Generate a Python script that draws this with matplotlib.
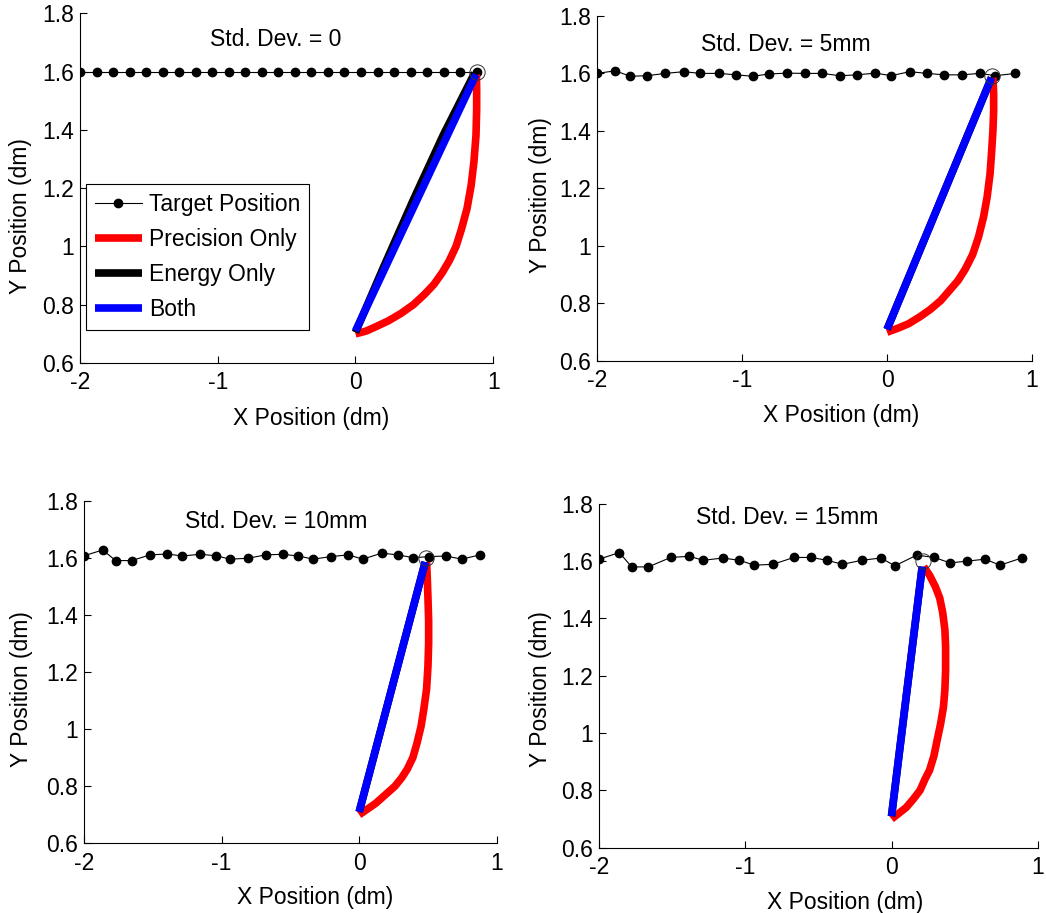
import numpy as np
import matplotlib
matplotlib.use('Agg')
import matplotlib.pyplot as plt

plt.rcParams['font.family'] = ['Liberation Sans', 'DejaVu Sans']
plt.rcParams['font.size'] = 16.5

titles = ['Std. Dev. = 0', 'Std. Dev. = 5mm', 'Std. Dev. = 10mm', 'Std. Dev. = 15mm']

# target positions (x, y)
tgt_x0 = [-2.0 + 0.12 * i for i in range(25)]
tgt_y0 = [1.6] * 25

tgt_x1 = [-2.0, -1.874, -1.770, -1.655, -1.529, -1.402, -1.287, -1.161, -1.039, -0.926,
          -0.816, -0.690, -0.568, -0.448, -0.326, -0.207, -0.080, 0.028, 0.156, 0.276,
          0.395, 0.517, 0.639, 0.747, 0.885]
tgt_y1 = [1.600, 1.609, 1.590, 1.592, 1.600, 1.606, 1.600, 1.600, 1.595, 1.590,
          1.598, 1.601, 1.600, 1.600, 1.592, 1.595, 1.601, 1.592, 1.606, 1.600,
          1.595, 1.595, 1.600, 1.592, 1.600]

tgt_x2 = [-2.0, -1.864, -1.770, -1.653, -1.520, -1.394, -1.285, -1.157, -1.040, -0.939,
          -0.810, -0.679, -0.556, -0.442, -0.333, -0.205, -0.079, 0.026, 0.164, 0.280,
          0.394, 0.510, 0.631, 0.745, 0.879]
tgt_y2 = [1.607, 1.627, 1.590, 1.590, 1.610, 1.613, 1.606, 1.612, 1.607, 1.595,
          1.598, 1.610, 1.612, 1.606, 1.595, 1.604, 1.610, 1.595, 1.616, 1.610,
          1.600, 1.604, 1.606, 1.595, 1.610]

tgt_x3 = [-2.0, -1.861, -1.777, -1.663, -1.510, -1.382, -1.287, -1.154, -1.040, -0.938,
          -0.812, -0.667, -0.550, -0.439, -0.336, -0.204, -0.074, 0.024, 0.172, 0.293,
          0.400, 0.514, 0.640, 0.742, 0.890]
tgt_y3 = [1.606, 1.629, 1.579, 1.579, 1.612, 1.616, 1.602, 1.610, 1.602, 1.585,
          1.588, 1.612, 1.612, 1.602, 1.588, 1.602, 1.610, 1.583, 1.620, 1.612,
          1.593, 1.599, 1.606, 1.585, 1.610]

# interception point (open circle)
hit_x = [0.88, 0.725, 0.485, 0.215]
hit_y = [1.60, 1.592, 1.600, 1.600]

# precision only trajectories
prec_x0 = [0.0, 0.08, 0.15, 0.24, 0.33, 0.42, 0.50, 0.57, 0.63, 0.68, 0.73, 0.77,
           0.81, 0.84, 0.86, 0.875, 0.88, 0.88, 0.878]
prec_y0 = [0.70, 0.71, 0.725, 0.745, 0.77, 0.80, 0.835, 0.87, 0.91, 0.95, 1.00, 1.06,
           1.13, 1.21, 1.29, 1.38, 1.47, 1.54, 1.59]
prec_x1 = [0.0, 0.08, 0.15, 0.23, 0.30, 0.37, 0.43, 0.49, 0.54, 0.59, 0.63, 0.665,
           0.69, 0.71, 0.72, 0.73, 0.735, 0.735, 0.73]
prec_y1 = [0.70, 0.715, 0.73, 0.755, 0.78, 0.81, 0.845, 0.88, 0.92, 0.97, 1.03, 1.10,
           1.17, 1.25, 1.32, 1.40, 1.47, 1.53, 1.585]
prec_x2 = [0.0, 0.06, 0.12, 0.19, 0.26, 0.31, 0.35, 0.39, 0.42, 0.45, 0.47, 0.49,
           0.50, 0.505, 0.505, 0.50, 0.495, 0.49]
prec_y2 = [0.70, 0.72, 0.74, 0.77, 0.80, 0.83, 0.86, 0.90, 0.95, 1.01, 1.07, 1.14,
           1.22, 1.30, 1.38, 1.46, 1.53, 1.585]
prec_x3 = [0.0, 0.05, 0.10, 0.15, 0.195, 0.23, 0.26, 0.29, 0.31, 0.335, 0.355, 0.365,
           0.37, 0.37, 0.365, 0.35, 0.33, 0.30, 0.26, 0.22]
prec_y3 = [0.70, 0.72, 0.74, 0.77, 0.80, 0.84, 0.87, 0.92, 0.97, 1.03, 1.09, 1.15,
           1.22, 1.30, 1.36, 1.42, 1.47, 1.51, 1.55, 1.58]

# energy only trajectory (only visible in the first panel)
enrg_x0 = [0.0, 0.20, 0.42, 0.64, 0.865]
enrg_y0 = [0.705, 0.925, 1.16, 1.385, 1.595]

# both
both_x = [[0.0, 0.875], [0.0, 0.72], [0.0, 0.48], [0.0, 0.21]]
both_y = [[0.71, 1.59], [0.71, 1.585], [0.71, 1.585], [0.71, 1.58]]

tgt_x = [tgt_x0, tgt_x1, tgt_x2, tgt_x3]
tgt_y = [tgt_y0, tgt_y1, tgt_y2, tgt_y3]
prec_x = [prec_x0, prec_x1, prec_x2, prec_x3]
prec_y = [prec_y0, prec_y1, prec_y2, prec_y3]
enrg_x = [enrg_x0, both_x[1], both_x[2], both_x[3]]
enrg_y = [enrg_y0, both_y[1], both_y[2], both_y[3]]

fig = plt.figure(figsize=(10.46, 9.13), dpi=100)
rects = [[0.0765, 0.6024, 0.395, 0.383],
         [0.5707, 0.6046, 0.416, 0.378],
         [0.0803, 0.0763, 0.3946, 0.3754],
         [0.5727, 0.0715, 0.4194, 0.377]]
title_pos = [(0.474, 0.924), (0.435, 0.916), (0.465, 0.938), (0.429, 0.96)]
ylab_pos = [(-0.116, 0.42), (-0.103, 0.48), (-0.124, 0.45), (-0.108, 0.46)]

for i in range(4):
    ax = fig.add_axes(rects[i])
    ax.plot(tgt_x[i], tgt_y[i], '-', color='black', lw=0.8, marker='o',
            ms=6, label='Target Position', zorder=2)
    ax.plot(prec_x[i], prec_y[i], color='red', lw=5.5, label='Precision Only',
            solid_capstyle='butt', solid_joinstyle='round', zorder=3)
    ax.plot(enrg_x[i], enrg_y[i], color='black', lw=5.5, label='Energy Only',
            solid_capstyle='butt', zorder=4)
    ax.plot(both_x[i], both_y[i], color='blue', lw=5.5, label='Both',
            solid_capstyle='butt', zorder=5)
    ax.plot(hit_x[i], hit_y[i], 'o', mfc='none', mec='#333333', mew=0.7,
            ms=11, zorder=6)

    ax.set_xlim(-2, 1)
    ax.set_ylim(0.6, 1.8)
    ax.set_xticks([-2, -1, 0, 1])
    ax.set_xticklabels(['-2', '-1', '0', '1'])
    ax.set_yticks([0.6, 0.8, 1.0, 1.2, 1.4, 1.6, 1.8])
    ax.set_yticklabels(['0.6', '0.8', '1', '1.2', '1.4', '1.6', '1.8'])
    ax.tick_params(direction='in', length=5, width=0.8, labelsize=16.5)
    ax.tick_params(axis='x', pad=6)
    ax.tick_params(axis='y', pad=4)
    ax.spines['top'].set_visible(False)
    ax.spines['right'].set_visible(False)
    ax.set_xlabel('X Position (dm)', fontsize=16.5)
    ax.xaxis.set_label_coords(0.56, -0.125)
    ax.set_ylabel('Y Position (dm)', fontsize=16.5)
    ax.yaxis.set_label_coords(ylab_pos[i][0], ylab_pos[i][1])
    ax.text(title_pos[i][0], title_pos[i][1], titles[i], transform=ax.transAxes,
            ha='center', va='center', fontsize=16.5)

    if i == 0:
        leg = ax.legend(loc='lower left', bbox_to_anchor=(0.014, 0.095),
                        fancybox=False, framealpha=1, edgecolor='black',
                        fontsize=16.5, handlelength=2.05, borderpad=0.4,
                        labelspacing=0.52, handletextpad=0.3, borderaxespad=0)
        leg.get_frame().set_linewidth(0.8)

fig.savefig('out.png', dpi=100)
